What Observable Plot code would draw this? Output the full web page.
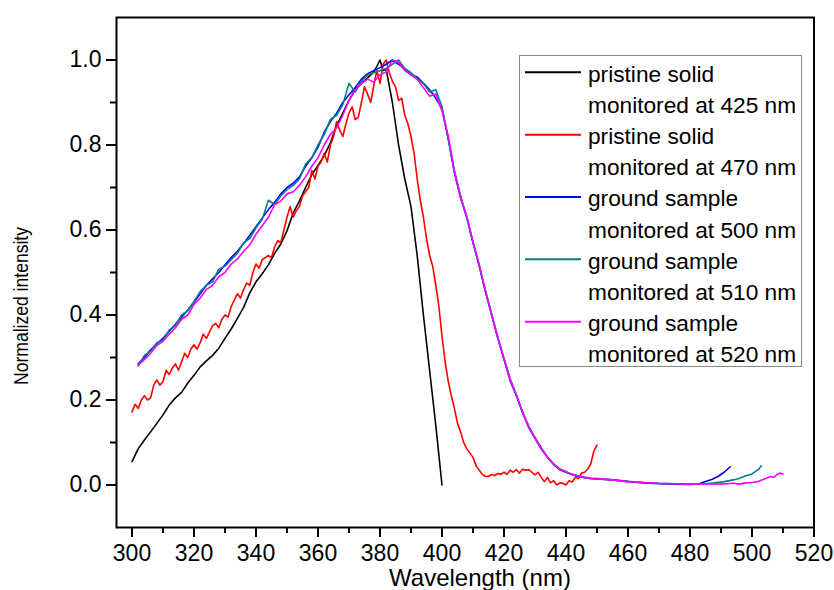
<!DOCTYPE html>
<html><head><meta charset="utf-8">
<script src="https://cdn.jsdelivr.net/npm/d3@7"></script>
<script src="https://cdn.jsdelivr.net/npm/@observablehq/plot@0.6"></script>
<style>body{margin:0;background:#fff;}</style>
</head><body><div id="chart"></div>
<script>
// ---- data ----
const seriesNames = ["pristine 425", "pristine 470", "ground 500", "ground 510", "ground 520"];
const seriesColors = ["#000000", "#ff0000", "#0000ff", "#008080", "#ff00ff"];
const legendLabels = [
  ["pristine solid", "monitored at 425 nm"],
  ["pristine solid", "monitored at 470 nm"],
  ["ground sample", "monitored at 500 nm"],
  ["ground sample", "monitored at 510 nm"],
  ["ground sample", "monitored at 520 nm"]
];
const xMajorTicks = [300, 320, 340, 360, 380, 400, 420, 440, 460, 480, 500, 520];
const xMinorTicks = [310, 330, 350, 370, 390, 410, 430, 450, 470, 490, 510];
const yMajorTicks = [0.0, 0.2, 0.4, 0.6, 0.8, 1.0];
const yMinorTicks = [0.1, 0.3, 0.5, 0.7, 0.9];

const wlBlack = [300,302,304,306,308,310,312,314,316,318,320,322,324,326,328,330,332,334,336,338,340,342,344,346,348,350,352,354,356,358,360,362,364,366,368,370,372,374,376,378,379,380,381,382,384,386,388,390,392,394,396,398,400];
const intBlack = [0.055,0.085,0.106,0.125,0.145,0.165,0.188,0.205,0.218,0.240,0.258,0.278,0.292,0.305,0.322,0.345,0.367,0.392,0.418,0.452,0.478,0.497,0.518,0.545,0.567,0.598,0.640,0.668,0.700,0.730,0.752,0.775,0.805,0.845,0.875,0.905,0.930,0.945,0.958,0.972,0.985,1.000,0.975,0.978,0.900,0.800,0.720,0.655,0.540,0.400,0.270,0.140,0.000];

const wlRed = [300,301,302,303,304,305,306,307,308,309,310,311,312,313,314,315,316,317,318,319,320,321,322,323,324,325,326,327,328,329,330,331,332,333,334,335,336,337,338,339,340,341,342,343,344,345,346,347,348,349,350,351,352,353,354,355,356,357,358,359,360,361,362,363,364,365,366,367,368,369,370,371,372,373,374,375,376,377,378,379,380,381,382,383,384,385,386,387,388,389,390,391,392,393,394,395,396,397,398,399,400,401,402,403,404,405,406,407,408,409,410,411,412,413,414,415,416,417,418,419,420,421,422,423,424,425,426,427,428,429,430,431,432,433,434,435,436,437,438,439,440,441,442,443,444,445,446,447,448,449,450];
const intRed = [0.172,0.190,0.180,0.200,0.210,0.200,0.205,0.235,0.247,0.235,0.243,0.270,0.260,0.275,0.285,0.270,0.290,0.310,0.300,0.320,0.330,0.320,0.335,0.355,0.345,0.360,0.375,0.380,0.370,0.390,0.400,0.395,0.420,0.435,0.450,0.440,0.460,0.475,0.470,0.500,0.520,0.510,0.530,0.535,0.540,0.535,0.560,0.575,0.570,0.600,0.630,0.655,0.630,0.645,0.655,0.680,0.690,0.700,0.740,0.720,0.750,0.760,0.780,0.760,0.800,0.820,0.855,0.835,0.820,0.850,0.875,0.890,0.860,0.865,0.900,0.937,0.920,0.900,0.940,0.975,0.945,0.990,1.000,0.970,0.950,0.937,0.905,0.910,0.870,0.850,0.820,0.780,0.720,0.670,0.630,0.580,0.540,0.515,0.470,0.420,0.350,0.290,0.245,0.210,0.180,0.145,0.125,0.100,0.085,0.075,0.065,0.045,0.035,0.025,0.020,0.020,0.025,0.022,0.027,0.025,0.030,0.025,0.035,0.030,0.036,0.028,0.037,0.035,0.036,0.030,0.024,0.030,0.018,0.008,0.018,0.005,0.010,0.000,0.005,0.004,0.000,0.010,0.007,0.018,0.015,0.028,0.030,0.037,0.050,0.080,0.094];

const wlBlue = [302,304,306,308,310,312,314,316,318,320,322,324,326,328,330,332,334,336,338,340,342,344,346,348,350,352,354,356,358,360,362,364,366,368,370,372,374,376,378,380,382,384,386,388,390,392,394,396,398,400,402,404,406,408,410,412,414,416,418,420,422,424,426,428,430,432,434,436,438,440,442,444,446,448,450,455,460,465,470,475,480,483,485,487,489,491,493];
const intBlue = [0.285,0.300,0.318,0.332,0.345,0.362,0.378,0.395,0.412,0.430,0.450,0.470,0.485,0.500,0.518,0.535,0.550,0.568,0.588,0.608,0.628,0.648,0.665,0.685,0.700,0.710,0.725,0.750,0.770,0.795,0.830,0.855,0.875,0.900,0.918,0.935,0.955,0.968,0.975,0.982,0.990,1.000,0.990,0.978,0.965,0.960,0.945,0.930,0.910,0.885,0.815,0.735,0.675,0.630,0.570,0.515,0.455,0.400,0.345,0.295,0.245,0.210,0.170,0.135,0.110,0.085,0.065,0.048,0.036,0.030,0.024,0.020,0.017,0.015,0.014,0.012,0.008,0.005,0.003,0.002,0.001,0.003,0.008,0.013,0.020,0.030,0.043];

const wlTeal = [302,304,306,308,310,312,314,316,318,320,322,324,326,328,330,332,334,336,338,340,342,344,346,348,350,352,354,356,358,360,362,364,366,368,370,372,374,376,378,380,382,384,386,388,390,392,394,396,398,400,402,404,406,408,410,412,414,416,418,420,422,424,426,428,430,432,434,436,438,440,442,444,446,448,450,455,460,465,470,475,480,485,488,491,494,496,498,500,502,503];
const intTeal = [0.280,0.305,0.315,0.335,0.340,0.365,0.375,0.400,0.410,0.432,0.455,0.470,0.478,0.508,0.515,0.530,0.545,0.570,0.580,0.605,0.625,0.670,0.660,0.680,0.695,0.705,0.720,0.755,0.770,0.800,0.825,0.860,0.870,0.895,0.945,0.925,0.950,0.965,0.970,0.975,0.980,0.990,1.000,0.980,0.970,0.955,0.945,0.925,0.930,0.890,0.815,0.740,0.680,0.628,0.572,0.518,0.458,0.403,0.348,0.298,0.250,0.212,0.172,0.138,0.112,0.088,0.066,0.050,0.038,0.031,0.025,0.021,0.018,0.016,0.015,0.012,0.009,0.006,0.004,0.003,0.002,0.003,0.005,0.008,0.012,0.016,0.022,0.026,0.036,0.045];

const wlMagenta = [302,304,306,308,310,312,314,316,318,320,322,324,326,328,330,332,334,336,338,340,342,344,346,348,350,352,354,356,358,360,362,364,366,368,370,372,374,376,378,380,382,384,386,388,390,392,394,396,398,400,402,404,406,408,410,412,414,416,418,420,422,424,426,428,430,432,434,436,438,440,442,444,446,448,450,455,460,465,470,475,480,485,490,494,496,498,500,502,504,506,507,508,509,510];
const intMagenta = [0.282,0.295,0.310,0.328,0.338,0.355,0.370,0.390,0.400,0.425,0.440,0.460,0.470,0.490,0.500,0.520,0.532,0.550,0.565,0.590,0.610,0.630,0.660,0.668,0.685,0.690,0.705,0.725,0.750,0.770,0.800,0.825,0.840,0.870,0.905,0.930,0.945,0.955,0.948,0.965,0.972,1.000,0.995,0.975,0.965,0.955,0.935,0.915,0.920,0.880,0.822,0.738,0.678,0.632,0.572,0.518,0.457,0.402,0.347,0.297,0.248,0.211,0.171,0.136,0.111,0.087,0.066,0.049,0.037,0.031,0.025,0.021,0.018,0.016,0.015,0.012,0.008,0.006,0.004,0.003,0.002,0.003,0.002,0.004,0.002,0.005,0.006,0.008,0.014,0.020,0.018,0.024,0.028,0.026];

// ---- build table ----
const seriesData = [[wlBlack,intBlack],[wlRed,intRed],[wlBlue,intBlue],[wlTeal,intTeal],[wlMagenta,intMagenta]];
const rows = [];
seriesData.forEach(([wl, v], i) => wl.forEach((w, j) => rows.push({wl: w, v: v[j], series: seriesNames[i]})));

const FONT = "'Liberation Sans', Arial, Helvetica, sans-serif";

const chart = Plot.plot({
  width: 834, height: 590,
  marginLeft: 116, marginRight: 20.5, marginTop: 17, marginBottom: 63,
  style: {fontFamily: FONT, fontSize: "23px", color: "#000", background: "#fff"},
  x: {domain: [295, 520]},
  y: {domain: [-0.1, 1.1]},
  color: {domain: seriesNames, range: seriesColors},
  marks: [
    Plot.line(rows, {x: "wl", y: "v", z: "series", stroke: "series", strokeWidth: 1.6}),
    Plot.frame({stroke: "#000", strokeWidth: 2}),
    Plot.axisX({ticks: xMajorTicks, tickSize: 10, tickPadding: 7, tickFormat: d => String(d), label: null, strokeWidth: 2, fontSize: 23}),
    Plot.axisX({ticks: xMinorTicks, tickSize: 6, tickFormat: () => "", label: null, strokeWidth: 2}),
    Plot.axisY({ticks: yMajorTicks, tickSize: 10, tickPadding: 5, tickFormat: d3.format(".1f"), label: null, strokeWidth: 2, fontSize: 23}),
    Plot.axisY({ticks: yMinorTicks, tickSize: 6, tickFormat: () => "", label: null, strokeWidth: 2})
  ]
});
document.getElementById("chart").appendChild(chart);

// ---- titles and legend ----
const svg = d3.select(chart);
svg.append("text").attr("x", 480).attr("y", 586).attr("text-anchor", "middle")
  .style("font-family", FONT).style("font-size", "24px").attr("fill", "#000").text("Wavelength (nm)");
svg.append("text").attr("transform", "translate(28,306) rotate(-90)").attr("text-anchor", "middle")
  .attr("textLength", 158).attr("lengthAdjust", "spacingAndGlyphs")
  .style("font-family", FONT).style("font-size", "20px").attr("fill", "#000").text("Normalized intensity");

const lg = svg.append("g").attr("text-anchor", "start");
lg.append("rect").attr("x", 519.5).attr("y", 55.5).attr("width", 282).attr("height", 311)
  .attr("fill", "#fff").attr("stroke", "#888").attr("stroke-width", 1);
legendLabels.forEach((lab, i) => {
  const y0 = 72.3 + i * 62.35;
  lg.append("line").attr("x1", 525).attr("x2", 581).attr("y1", y0).attr("y2", y0)
    .attr("stroke", seriesColors[i]).attr("stroke-width", 2);
  lab.forEach((t, k) => {
    lg.append("text").attr("x", 588).attr("y", y0 + 9.4 + k * 31.1).attr("text-anchor", "start")
      .style("font-family", FONT).style("font-size", "22.7px").attr("fill", "#000").text(t);
  });
});
</script>
</body></html>
